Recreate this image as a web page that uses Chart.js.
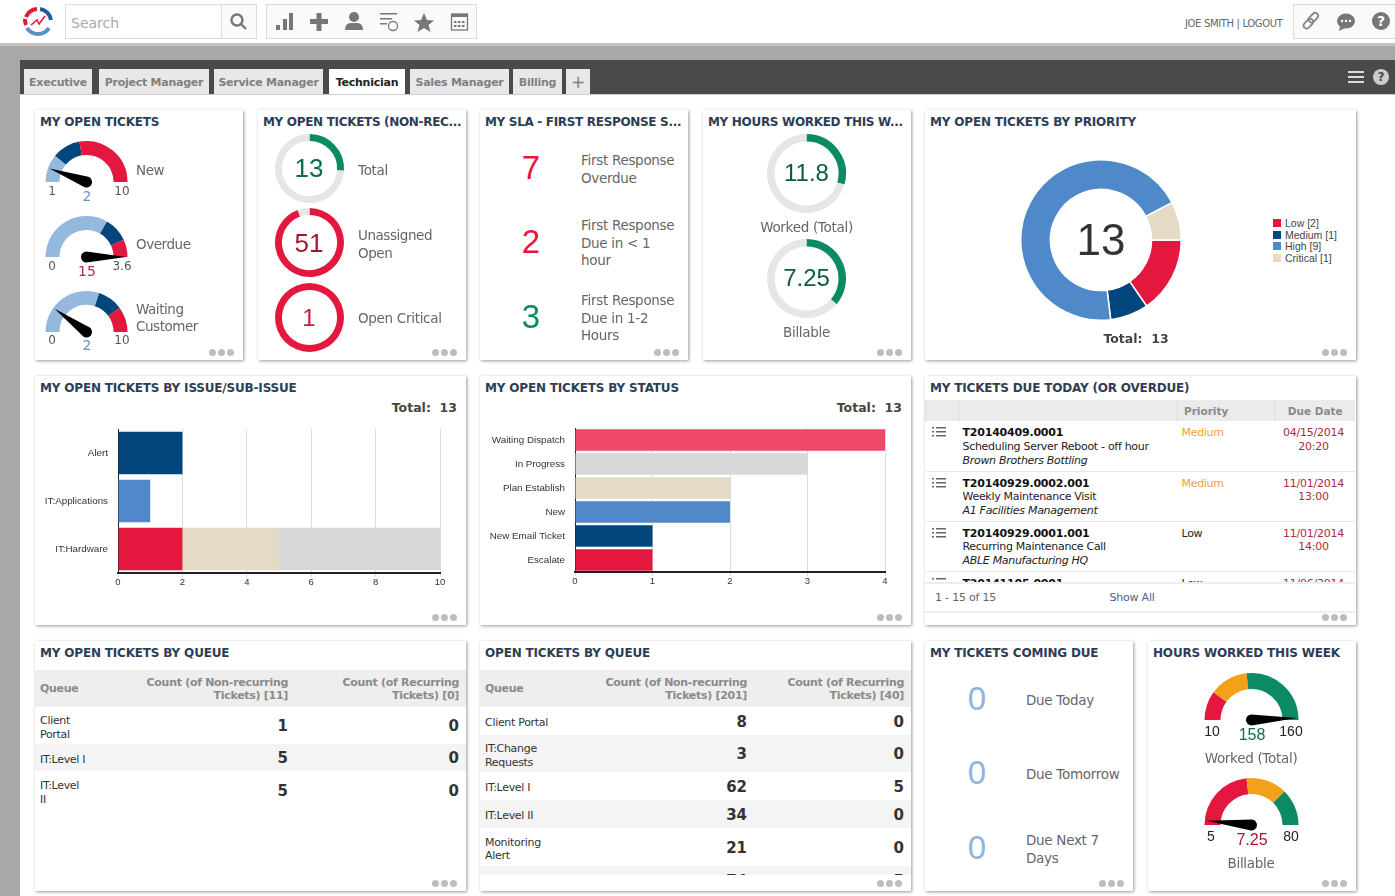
<!DOCTYPE html>
<html lang="en">
<head>
<meta charset="UTF-8">
<title>Technician Dashboard</title>
<script src="https://cdn.jsdelivr.net/npm/chart.js"></script>
<style>
    html, body { margin: 0; padding: 0; }
    body { width: 1395px; height: 896px; overflow: hidden; position: relative; background: #a8a8a8; font-family: "DejaVu Sans", sans-serif; color: #666; }
    #top { position: absolute; left: 0; top: 0; width: 1395px; height: 43px; background: #fff; border-bottom: 3px solid #c4c4c4; }
    #dark { position: absolute; left: 20px; top: 60px; width: 1375px; height: 34px; background: #4a4a4a; }
    #page { position: absolute; left: 20px; top: 94px; width: 1375px; height: 802px; background: #fff; border-top: 1px solid #ccc; box-sizing: border-box; }
    .box { position: absolute; background: #fafafa; border: 1px solid #dcdcdc; box-sizing: border-box; }
    .tab { position: absolute; top: 69px; height: 25px; line-height: 27px; background: #e8e8e8; color: #808080; font-weight: bold; font-size: 11px; text-align: center; letter-spacing: -0.25px; }
    .tab.on { background: #fff; color: #222; }
    .card { position: absolute; background: #fff; box-sizing: border-box; box-shadow: 1px 1px 3px rgba(0,0,0,.4); overflow: hidden; }
    .card h3 { margin: 0; position: absolute; left: 5px; top: 5px; font-size: 12px; line-height: 14px; color: #2d3d55; white-space: nowrap; letter-spacing: -0.18px; }
    .card h3.cut { letter-spacing: -0.32px; }
    .dots { position: absolute; right: 9px; bottom: 4px; display: flex; gap: 2px; }
    .dots i { width: 7px; height: 7px; border-radius: 50%; background: #bdbdbd; display: block; }
    .lbl { position: absolute; white-space: nowrap; transform: translateY(-50%); }
    .ctr { transform: translate(-50%, -50%); }
    .rgt { transform: translate(-100%, -50%); }
    canvas { position: absolute; }
    table { border-collapse: collapse; table-layout: fixed; }
    .qwrap { position: absolute; overflow: hidden; }
    .qwrap th { background: #eee; color: #8a8a8a; font-size: 11px; line-height: 13px; font-weight: bold; text-align: right; padding: 0 7px 0 0; letter-spacing: -0.3px; }
    .qwrap th:first-child, .qwrap td:first-child { text-align: left; padding-left: 5px; }
    .qwrap td { font-size: 11px; line-height: 13.5px; color: #333; padding: 4px 7px 0 0; text-align: right; letter-spacing: -0.3px; box-sizing: border-box; }
    .qwrap td b { font-size: 15px; color: #333; letter-spacing: 0; }
    .qwrap tr.alt td { background: #f4f4f4; }
    .dwrap { position: absolute; left: 925px; top: 400px; width: 430px; height: 182px; overflow: hidden; }
    .dwrap th { background: #ebebeb; color: #8a8a8a; font-size: 10.5px; height: 21px; padding: 0; border-left: 1px solid #ddd; }
    .dwrap th.pri { text-align: left; padding-left: 6px; }
    .dwrap td { height: 50px; padding: 5px 0 0 4px; box-sizing: border-box; vertical-align: top; font-size: 11px; line-height: 13.8px; color: #222; border-bottom: 1px solid #e6e6e6; letter-spacing: -0.3px; }
    .dwrap td b { letter-spacing: -0.2px; }
    .dwrap td.due { color: #b02a3a; text-align: center; padding: 5px 3px 0 0; letter-spacing: -0.25px; }
    .dwrap td.med { color: #f2a03d; }
</style>
</head>
<body>
<div id="top"></div>
<div id="dark"></div>
<div id="page"></div>
<div class="box" style="left:65px;top:4px;width:157px;height:35px;background:#fff"></div>
<div class="box" style="left:221px;top:4px;width:36px;height:35px"></div>
<div class="box" style="left:266px;top:4px;width:211px;height:35px"></div>
<div class="box" style="left:1293px;top:4px;width:104px;height:35px"></div>

<svg id="icons" width="1395" height="100" style="position:absolute;left:0;top:0;pointer-events:none">
    <g fill="none" stroke-width="4">
        <path d="M26 17 A13 13 0 0 1 37 9" stroke="#e4173e"/><path d="M40 9 A13 13 0 0 1 51 20" stroke="#1f5e96"/>
        <path d="M27 28 A13 13 0 0 0 49 28" stroke="#5b8fc7"/><path d="M26 25 A13 13 0 0 1 25 19" stroke="#e4173e"/>
    </g>
    <path d="M31 25 L37 20 L39 24 L45 16" fill="none" stroke="#e4173e" stroke-width="1.6"/>
    <g fill="none" stroke="#777" stroke-width="2.4"><circle cx="237" cy="20" r="5.5"/><path d="M241 24 L246 29"/></g>
    <g fill="#777">
        <rect x="276" y="25" width="4" height="5"/><rect x="283" y="19" width="4" height="11"/><rect x="289" y="13" width="4" height="17"/>
        <rect x="310" y="19" width="18" height="5"/><rect x="316.500" y="13" width="5" height="18"/>
        <circle cx="354" cy="17" r="5"/><path d="M345 30 Q345 23 351 23 L357 23 Q363 23 363 30 Z"/>
        <rect x="380" y="13" width="17" height="1.500"/><rect x="380" y="18" width="12" height="1.500"/><rect x="380" y="23" width="7" height="1.500"/>
        <path d="M424 13 L427 20 L434 20.500 L428.500 25 L430.500 32 L424 28 L417.500 32 L419.500 25 L414 20.500 L421 20 Z"/>
        <rect x="451" y="14" width="17" height="3"/>
    </g>
    <circle cx="393" cy="26" r="4.500" fill="none" stroke="#777" stroke-width="1.300"/>
    <rect x="451.500" y="14" width="16" height="16" fill="none" stroke="#777" stroke-width="1.300"/>
    <g fill="#777"><rect x="454" y="21" width="2.500" height="2"/><rect x="458" y="21" width="2.500" height="2"/><rect x="462" y="21" width="2.500" height="2"/><rect x="454" y="25" width="2.500" height="2"/><rect x="458" y="25" width="2.500" height="2"/><rect x="462" y="25" width="2.500" height="2"/></g>
    <g fill="none" stroke="#888" stroke-width="1.800"><rect x="1303" y="21" width="11" height="6" rx="3" transform="rotate(-45 1308 24)"/><rect x="1308" y="15" width="11" height="6" rx="3" transform="rotate(-45 1313 18)"/></g>
    <ellipse cx="1346" cy="21" rx="9" ry="7.500" fill="#777"/><path d="M1340 26 L1339 31 L1345 28 Z" fill="#777"/>
    <g fill="#fff"><circle cx="1342" cy="21" r="1.200"/><circle cx="1346" cy="21" r="1.200"/><circle cx="1350" cy="21" r="1.200"/></g>
    <circle cx="1381" cy="21" r="9" fill="#777"/>
    <g fill="#ddd"><rect x="1348" y="71" width="16" height="2"/><rect x="1348" y="76" width="16" height="2"/><rect x="1348" y="81" width="16" height="2"/></g>
    <circle cx="1381" cy="77" r="8" fill="#ccc"/>
</svg>
<div id="labels"></div>

<script>
    // gauges: segment stops go from the dial min to the dial max
    const newStops = [1, 3, 5, 10], overdueStops = [0, 2.4, 3.1, 3.6], waitingStops = [0, 6, 8, 10];
    const workedStops = [10, 40, 80, 160], billableStops = [5, 40, 61, 80];
    const newValue = 2, overdueValue = 15, waitingValue = 2, workedValue = 158, billableValue = 7.25;

    // progress rings: value and scale maximum
    const ringValues = [13, 51, 1], ringMax = [50, 54, 1];
    const hourValues = [11.8, 7.25], hourMax = [40, 20];

    const priorityLabels = ["Low", "Medium", "High", "Critical"];
    const priorityValues = [2, 1, 9, 1];

    const issueLabels = ["Alert", "IT:Applications", "IT:Hardware"];
    const issueFirst = [2, 1, 2], issueSecond = [0, 0, 3], issueThird = [0, 0, 5];
    const issueTicks = 2, issueMaxValue = 10;

    const statusLabels = ["Waiting Dispatch", "In Progress", "Plan Establish", "New", "New Email Ticket", "Escalate"];
    const statusValues = [4, 3, 2, 2, 1, 1];

    const myQueue = ["Client<br>Portal", "IT:Level I", "IT:Level<br>II"];
    const myQueueOpen = [1, 5, 5], myQueueRec = [0, 0, 0];
    const allQueue = ["Client Portal", "IT:Change<br>Requests", "IT:Level I", "IT:Level II", "Monitoring<br>Alert", ""];
    const allQueueOpen = [8, 3, 62, 34, 21, 74], allQueueRec = [0, 0, 5, 0, 0, 5];

    const dueIds = ["T20140409.0001", "T20140929.0002.001", "T20140929.0001.001", "T20141105.0001"];
    const dueTitles = ["Scheduling Server Reboot - off hour", "Weekly Maintenance Visit", "Recurring Maintenance Call", ""];
    const dueClients = ["Brown Brothers Bottling", "A1 Facilities Management", "ABLE Manufacturing HQ", ""];
    const duePriority = ["Medium", "Medium", "Low", "Low"];
    const dueDates = ["04/15/2014<br>20:20", "11/01/2014<br>13:00", "11/01/2014<br>14:00", "11/06/2014"];

    const RED = "#e4173e", NAVY = "#03467e", BLUE = "#4f89c9", TAN = "#e5dac5", GREY = "#d8d8d8";
    const PALE = "#94b8de", GREEN = "#0c8a63", ORANGE = "#f3a01b", RING = "#e6e6e6";

    Chart.defaults.animation = false;
    Chart.defaults.responsive = false;
    Chart.defaults.plugins.legend.display = false;
    Chart.defaults.plugins.tooltip.enabled = false;
    Chart.defaults.font.family = "Liberation Sans";

    const labels = document.getElementById("labels");
    function text(x, y, str, css, cls) {
        const d = document.createElement("div");
        d.className = "lbl " + (cls || "");
        d.style.cssText = "left:" + x + "px;top:" + y + "px;" + (css || "");
        d.innerHTML = str;
        labels.appendChild(d);
    }
    function canvas(x, y, w, h) {
        const c = document.createElement("canvas");
        c.width = w; c.height = h;
        c.style.left = x + "px"; c.style.top = y + "px";
        labels.appendChild(c);
        return c;
    }
    function card(x, y, w, h, title) {
        const d = document.createElement("div");
        d.className = "card";
        d.style.cssText = "left:" + x + "px;top:" + y + "px;width:" + w + "px;height:" + h + "px";
        d.innerHTML = "<h3" + (title.endsWith("...") ? " class='cut'" : "") + ">" + title + "</h3><div class='dots'><i></i><i></i><i></i></div>";
        labels.appendChild(d);
    }

    // needle is drawn from the gauge's own arc geometry
    const needle = {
        id: "needle",
        afterDraw(chart, args, opts) {
            const arc = chart.getDatasetMeta(0).data[0];
            const stops = opts.stops;
            const lo = stops[0], hi = stops[stops.length - 1];
            const v = Math.min(hi, Math.max(lo, opts.value));
            const a = Math.PI + (v - lo) / (hi - lo) * Math.PI;
            const len = arc.outerRadius * 0.96, hub = 5.5;
            const c = chart.ctx;
            c.save();
            c.translate(arc.x, arc.y);
            c.rotate(a);
            c.fillStyle = "#000";
            c.beginPath();
            c.arc(0, 0, hub, Math.PI / 2, Math.PI * 1.5);
            c.lineTo(len, 0);
            c.closePath();
            c.fill();
            c.restore();
        }
    };

    function gauge(cx, baseY, r, stops, colors, value) {
        const c = canvas(cx - r - 4, baseY - r - 2, 2 * r + 8, r + 12);
        const widths = stops.slice(1).map((s, i) => s - stops[i]);
        new Chart(c, {
            type: "doughnut",
            data: { datasets: [{ data: widths, backgroundColor: colors, borderWidth: 0 }] },
            options: { rotation: -90, circumference: 180, cutout: "66%",
                layout: { padding: { left: 4, right: 4, top: 2, bottom: 10 } },
                plugins: { needle: { stops: stops, value: value } } },
            plugins: [needle]
        });
    }
    function ring(cx, cy, r, cut, value, max, color) {
        const c = canvas(cx - r - 1, cy - r - 1, 2 * r + 2, 2 * r + 2);
        new Chart(c, {
            type: "doughnut",
            data: { datasets: [{ data: [value, max - value], backgroundColor: [color, RING], borderWidth: 0 }] },
            options: { cutout: cut, layout: { padding: 1 } }
        });
    }

    // top bar and tabs
    text(71, 23, "Search", "font-size:14px;color:#aaa");
    text(1185, 23, "JOE SMITH | LOGOUT", "font-size:10px;color:#666;letter-spacing:-0.35px");
    text(1381, 21, "?", "font-size:14px;font-weight:bold;color:#fff", "ctr");
    text(1381, 77, "?", "font-size:12px;font-weight:bold;color:#4a4a4a", "ctr");
    [["Executive", 24, 68], ["Project Manager", 99, 110], ["Service Manager", 214, 109], ["Technician", 329, 76],
     ["Sales Manager", 410, 99], ["Billing", 513, 49], ["+", 566, 24]].forEach(t => {
        const d = document.createElement("div");
        d.className = "tab" + (t[0] === "Technician" ? " on" : "");
        d.style.cssText = "left:" + t[1] + "px;width:" + t[2] + "px;" + (t[0] === "+" ? "font-size:17px;font-weight:normal" : "");
        d.textContent = t[0];
        labels.appendChild(d);
    });

    // cards, long titles are shortened the way the dashboard shows them
    card(35, 110, 208, 250, "MY OPEN TICKETS");
    card(258, 110, 208, 250, "MY OPEN TICKETS (NON-REC...");
    card(480, 110, 208, 250, "MY SLA - FIRST RESPONSE S...");
    card(703, 110, 208, 250, "MY HOURS WORKED THIS W...");
    card(925, 110, 431, 250, "MY OPEN TICKETS BY PRIORITY");
    card(35, 376, 431, 249, "MY OPEN TICKETS BY ISSUE/SUB-ISSUE");
    card(480, 376, 431, 249, "MY OPEN TICKETS BY STATUS");
    card(925, 376, 431, 249, "MY TICKETS DUE TODAY (OR OVERDUE)");
    card(35, 641, 431, 250, "MY OPEN TICKETS BY QUEUE");
    card(480, 641, 431, 250, "OPEN TICKETS BY QUEUE");
    card(925, 641, 208, 250, "MY TICKETS COMING DUE");
    card(1148, 641, 208, 250, "HOURS WORKED THIS WEEK");

    // my open tickets gauges
    const blues = [PALE, NAVY, RED];
    gauge(86.5, 182, 41.5, newStops, blues, newValue);
    gauge(86.5, 257, 41.5, overdueStops, blues, overdueValue);
    gauge(86.5, 332, 41.5, waitingStops, blues, waitingValue);
    const tick = "font-size:12px;color:#555;";
    [[191, "1", "2", "10", "#6f92bd", "New", 170], [265.5, "0", "15", "3.6", "#c0283f", "Overdue", 244],
     [340, "0", "2", "10", "#6f92bd", "Waiting<br>Customer", 318]].forEach(g => {
        text(52, g[0], g[1], tick, "ctr");
        text(87, g[0] + 5, g[2], "font-size:14px;color:" + g[4], "ctr");
        text(122, g[0], g[3], tick, "ctr");
        text(136, g[6], g[5], "font-size:13.500px;line-height:17px;color:#666;letter-spacing:-0.45px");
    });

    // non-recurring rings
    const ringColors = ["#0e6b4e", "#a5162c", "#c0203a"];
    [168, 242.5, 317.5].forEach((y, i) => {
        ring(309, y, 34.5, "80%", ringValues[i], ringMax[i], i === 0 ? GREEN : RED);
        text(309, y, ringValues[i], "font-size:" + (i === 2 ? 24 : 26) + "px;font-family:Liberation Sans;color:" + ringColors[i], "ctr");
    });
    text(358, 170, "Total", "font-size:13.500px;letter-spacing:-0.3px");
    text(358, 244, "Unassigned<br>Open", "font-size:13.500px;line-height:17.500px;letter-spacing:-0.45px");
    text(358, 318, "Open Critical", "font-size:13.500px;letter-spacing:-0.3px");

    // SLA
    const big = "font-size:33px;font-family:Liberation Sans;";
    text(531, 168, "7", big + "color:" + RED, "ctr");
    text(531, 242, "2", big + "color:" + RED, "ctr");
    text(531, 317, "3", big + "color:" + GREEN, "ctr");
    const sla = "font-size:13.500px;line-height:17.500px;letter-spacing:-0.3px";
    text(581, 169, "First Response<br>Overdue", sla);
    text(581, 243, "First Response<br>Due in &lt; 1<br>hour", sla);
    text(581, 318, "First Response<br>Due in 1-2<br>Hours", sla);

    // hours rings
    [173, 278].forEach((y, i) => {
        ring(806.5, y, 39.5, "81%", hourValues[i], hourMax[i], GREEN);
        text(806.5, y, hourValues[i], "font-size:24px;font-family:Liberation Sans;color:#0e5a44", "ctr");
    });
    text(806.5, 227, "Worked (Total)", "font-size:13.500px;letter-spacing:-0.3px", "ctr");
    text(806.5, 332, "Billable", "font-size:13.500px;letter-spacing:-0.3px", "ctr");

    // priority doughnut
    const priorityColors = [RED, NAVY, BLUE, TAN];
    new Chart(canvas(1018, 157, 166, 166), {
        type: "doughnut",
        data: { labels: priorityLabels, datasets: [{ data: priorityValues, backgroundColor: priorityColors, borderColor: "#fff", borderWidth: 1.5 }] },
        options: { rotation: 90, cutout: "63%", layout: { padding: 2 } }
    });
    text(1101, 240, "13", "font-size:44px;font-family:Liberation Sans;color:#333", "ctr");
    text(1136, 338, "Total:&nbsp; 13", "font-size:12.500px;font-weight:bold;color:#444", "ctr");
    priorityLabels.forEach((p, i) => {
        const y = 223 + i * 11.6;
        text(1273, y, "", "width:8px;height:8px;background:" + priorityColors[i]);
        text(1285, y, p + " [" + priorityValues[i] + "]", "font-size:10.500px;font-family:Liberation Sans;color:#444");
    });

    // stacked bars
    function barOptions(yWidth, rightPad, xMax, step) {
        return {
            indexAxis: "y",
            layout: { padding: { top: 8, right: rightPad, left: 0, bottom: 0 } },
            scales: {
                x: { stacked: true, min: 0, max: xMax, afterFit(s) { s.height = 26; },
                    ticks: { stepSize: step, color: "#333", font: { size: 9.5 }, maxRotation: 0, padding: 0 },
                    grid: { color: "#dcdcdc", tickLength: 4 }, border: { color: "#222", width: 2 } },
                y: { stacked: true, afterFit(s) { s.width = yWidth; },
                    ticks: { color: "#333", font: { size: 9.8 }, padding: 2 },
                    grid: { display: false }, border: { color: "#222", width: 1 } }
            }
        };
    }
    new Chart(canvas(35, 421, 431, 178), {
        type: "bar",
        data: { labels: issueLabels, datasets: [
            { data: issueFirst, backgroundColor: [NAVY, BLUE, RED], barPercentage: 0.89, categoryPercentage: 1 },
            { data: issueSecond, backgroundColor: TAN, barPercentage: 0.89, categoryPercentage: 1 },
            { data: issueThird, backgroundColor: GREY, barPercentage: 0.89, categoryPercentage: 1 }
        ] },
        options: barOptions(83, 26, issueMaxValue, issueTicks)
    });
    new Chart(canvas(480, 420, 431, 178), {
        type: "bar",
        data: { labels: statusLabels, datasets: [
            { data: statusValues, backgroundColor: ["#ee4966", GREY, TAN, BLUE, NAVY, RED], barPercentage: 0.9, categoryPercentage: 1 }
        ] },
        options: barOptions(95, 26, 4, 1)
    });
    text(457, 407, "Total:&nbsp; 13", "font-size:12.500px;font-weight:bold;color:#444", "rgt");
    text(902, 407, "Total:&nbsp; 13", "font-size:12.500px;font-weight:bold;color:#444", "rgt");

    // due table
    let dueRows = "";
    dueIds.forEach((id, i) => {
        dueRows += "<tr><td><svg width='15' height='14' style='margin-left:2px'><g fill='#666'>" +
            [1, 5, 9].map(y => "<rect x='0' y='" + y + "' width='2' height='1.500'/><rect x='4' y='" + y + "' width='10' height='1.500'/>").join("") +
            "</g></svg></td><td><b style='color:#111'>" + id + "</b><br>" + dueTitles[i] + "<br><i>" + dueClients[i] + "</i></td>" +
            "<td class='" + (duePriority[i] === "Medium" ? "med" : "") + "'>" + duePriority[i] + "</td><td class='due'>" + dueDates[i] + "</td></tr>";
    });
    const dw = document.createElement("div");
    dw.className = "dwrap";
    dw.innerHTML = "<table style='width:430px'><colgroup><col style='width:33px'><col style='width:219px'><col style='width:97px'><col style='width:81px'></colgroup>" +
        "<tr><th></th><th></th><th class='pri'>Priority</th><th>Due Date</th></tr>" + dueRows + "</table>";
    labels.appendChild(dw);
    text(935, 597, "1 - 15 of 15", "font-size:11px;color:#666;letter-spacing:-0.2px");
    text(1132, 597, "Show All", "font-size:11px;color:#4a5f8a;letter-spacing:-0.2px", "ctr");
    text(925, 583, "", "width:430px;height:1px;background:#ddd");
    text(925, 612, "", "width:430px;height:1px;background:#ddd");

    // queue tables
    function queue(x, h, col1, col2, col3, head, names, open, rec, heights) {
        let rows = "<tr style='height:37px'><th>Queue</th><th>" + head[0] + "</th><th>" + head[1] + "</th></tr>";
        names.forEach((n, i) => {
            rows += "<tr class='" + (i % 2 ? "alt" : "") + "' style='height:" + heights[i] + "px'><td>" + n + "</td><td><b>" + open[i] + "</b></td><td><b>" + rec[i] + "</b></td></tr>";
        });
        const d = document.createElement("div");
        d.className = "qwrap";
        d.style.cssText = "left:" + x + "px;top:670px;width:431px;height:" + h + "px";
        d.innerHTML = "<table style='width:431px'><colgroup><col style='width:" + col1 + "px'><col style='width:" + col2 + "px'><col style='width:" + col3 + "px'></colgroup>" + rows + "</table>";
        labels.appendChild(d);
    }
    queue(35, 205, 64, 196, 171, ["Count (of Non-recurring<br>Tickets) [11]", "Count (of Recurring<br>Tickets) [0]"], myQueue, myQueueOpen, myQueueRec, [37, 27, 39]);
    queue(480, 205, 100, 174, 157, ["Count (of Non-recurring<br>Tickets) [201]", "Count (of Recurring<br>Tickets) [40]"], allQueue, allQueueOpen, allQueueRec, [28, 37, 28, 28, 38, 28]);

    // coming due
    [[699, "Due Today"], [773, "Due Tomorrow"], [848, "Due Next 7<br>Days"]].forEach(r => {
        text(977, r[0], "0", big + "color:#8fb4dc", "ctr");
        text(1026, r[0] + 1, r[1], "font-size:13.500px;line-height:18px;letter-spacing:-0.3px");
    });

    // hours gauges
    const traffic = [RED, ORANGE, GREEN];
    gauge(1251.5, 720, 47.5, workedStops, traffic, workedValue);
    gauge(1251.5, 825, 47.5, billableStops, traffic, billableValue);
    [[731, "10", "158", "160", "#0f6e50", 1212, 1291, "Worked (Total)"], [836, "5", "7.25", "80", "#a5162c", 1211, 1291, "Billable"]].forEach(g => {
        text(g[5], g[0], g[1], "font-size:14px;font-family:Liberation Sans;color:#222", "ctr");
        text(1252, g[0] + 4, g[2], "font-size:16px;font-family:Liberation Sans;color:" + g[4], "ctr");
        text(g[6], g[0], g[3], "font-size:14px;font-family:Liberation Sans;color:#222", "ctr");
        text(1251, g[0] + 27, g[7], "font-size:13.500px;letter-spacing:-0.3px", "ctr");
    });
</script>
</body>
</html>
